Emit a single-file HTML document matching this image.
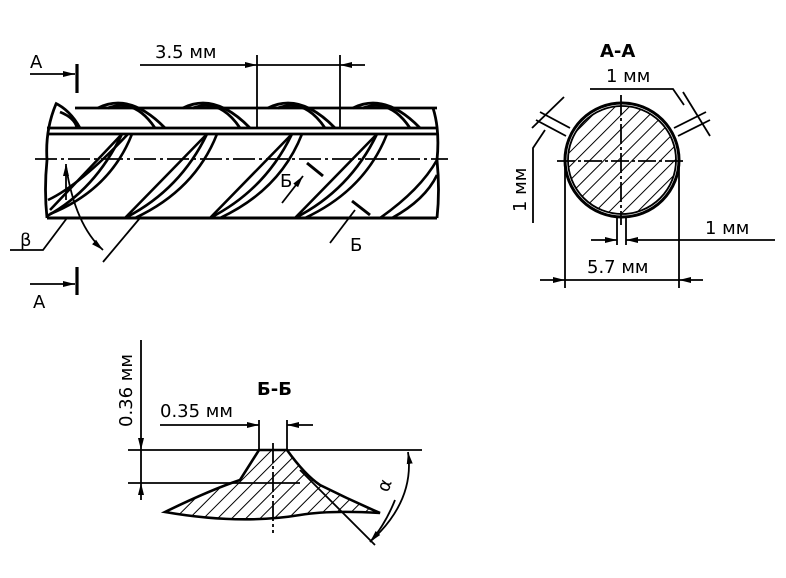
<!DOCTYPE html>
<html><head><meta charset="utf-8"><style>
html,body{margin:0;padding:0;background:#fff;}
svg{display:block;}
text{font-family:"DejaVu Sans","Liberation Sans",sans-serif;font-size:18px;fill:#000;}
</style></head><body>
<svg width="786" height="578" viewBox="0 0 786 578" xmlns="http://www.w3.org/2000/svg">
<defs>
<marker id="ar" markerWidth="12" markerHeight="8" refX="12" refY="4" orient="auto" markerUnits="userSpaceOnUse"><path d="M0,1 L12,4 L0,7 Z" fill="#000"/></marker>
<pattern id="h" width="10" height="10" patternUnits="userSpaceOnUse" patternTransform="rotate(45)"><line x1="0" y1="0" x2="0" y2="10" stroke="#000" stroke-width="2"/></pattern>
<clipPath id="cc"><circle cx="622" cy="160" r="54"/></clipPath>
</defs>
<g stroke="#000" fill="none" stroke-width="2.8">
<!-- rebar body -->
<line x1="75" y1="108" x2="437" y2="108"/>
<line x1="47" y1="128" x2="437" y2="128"/>
<line x1="47" y1="134" x2="437" y2="134"/>
<line x1="47" y1="218" x2="437" y2="218" stroke-width="3"/>
<path d="M56,104 Q45,130 47,160 Q44,190 47,218"/>
<path d="M433,108 Q440,130 437,160 Q440,190 437,218"/>
<g>
<path d="M55,103 Q70,110 80,128"/>
<path d="M60,112 Q75,118 77,128"/>
<path d="M98,108 Q130,92 165,128"/><path d="M108,108 Q135,98 155,128"/>
<path d="M183,108 Q215,92 250,128"/><path d="M193,108 Q220,98 240,128"/>
<path d="M268,108 Q300,92 335,128"/><path d="M278,108 Q305,98 325,128"/>
<path d="M353,108 Q385,92 420,128"/><path d="M363,108 Q390,98 410,128"/>
</g>
<g stroke-width="2.6">
<path d="M122,134 L50,210"/><path d="M132,134 Q110,190 50,214"/><path d="M122,134 Q95,190 47,216"/>
<path d="M207,134 L125,218"/><path d="M217,134 Q195,190 135,218"/><path d="M207,134 Q180,190 125,218"/>
<path d="M292,134 L210,218"/><path d="M302,134 Q280,190 220,218"/><path d="M292,134 Q265,190 210,218"/>
<path d="M377,134 L295,218"/><path d="M387,134 Q365,190 305,218"/><path d="M377,134 Q350,190 295,218"/>
<path d="M437,160 Q420,190 380,218"/><path d="M437,175 Q425,200 392,218"/>
<path d="M128,134 Q80,185 48,200"/>
</g>
<line x1="35" y1="159" x2="448" y2="159" stroke-width="1.8" stroke-dasharray="22,4,3,4"/>
<line x1="140" y1="65" x2="257" y2="65" stroke-width="1.8" marker-end="url(#ar)"/>
<line x1="257" y1="65" x2="340" y2="65" stroke-width="1.8"/>
<line x1="365" y1="65" x2="340" y2="65" stroke-width="1.8" marker-end="url(#ar)"/>
<line x1="257" y1="55" x2="257" y2="128" stroke-width="1.8"/>
<line x1="340" y1="55" x2="340" y2="128" stroke-width="1.8"/>
<line x1="30" y1="74" x2="75" y2="74" stroke-width="1.8" marker-end="url(#ar)"/>
<line x1="77" y1="64" x2="77" y2="93" stroke-width="3.2"/>
<line x1="30" y1="284" x2="75" y2="284" stroke-width="1.8" marker-end="url(#ar)"/>
<line x1="77" y1="267" x2="77" y2="295" stroke-width="3.2"/>
<polyline points="10,250 43,250 67,218" stroke-width="1.8"/>
<path d="M66,166 Q75,225 103,250" stroke-width="1.8" marker-end="url(#ar)"/>
<line x1="66" y1="200" x2="66" y2="164" stroke-width="1.8" marker-end="url(#ar)"/>
<line x1="103" y1="262" x2="140" y2="218" stroke-width="1.8"/>
<line x1="282" y1="203" x2="303" y2="176" stroke-width="1.8" marker-end="url(#ar)"/>
<line x1="307" y1="163" x2="323" y2="176" stroke-width="3"/>
<line x1="330" y1="243" x2="355" y2="210" stroke-width="1.8"/>
<line x1="352" y1="201" x2="370" y2="215" stroke-width="3"/>
<rect x="560" y="100" width="125" height="125" fill="url(#h)" stroke="none" clip-path="url(#cc)"/>
<circle cx="622" cy="160" r="57" stroke-width="3"/>
<circle cx="622" cy="160" r="54" stroke-width="1.8"/>
<line x1="557" y1="161" x2="686" y2="161" stroke-width="1.8" stroke-dasharray="18,3,3,3"/>
<line x1="621" y1="95" x2="621" y2="225" stroke-width="1.8" stroke-dasharray="20,3,3,3"/>
<line x1="570" y1="128" x2="540" y2="112" stroke-width="1.8"/>
<line x1="566" y1="136" x2="536" y2="120" stroke-width="1.8"/>
<line x1="532" y1="128" x2="564" y2="97" stroke-width="1.8"/>
<line x1="674" y1="128" x2="706" y2="112" stroke-width="1.8"/>
<line x1="678" y1="136" x2="710" y2="120" stroke-width="1.8"/>
<line x1="683" y1="92" x2="710" y2="136" stroke-width="1.8"/>
<polyline points="590,89 673,89 684,105" stroke-width="1.8"/>
<polyline points="533,223 533,148 545,130" stroke-width="1.8"/>
<line x1="617" y1="218" x2="617" y2="245" stroke-width="1.8"/>
<line x1="626" y1="218" x2="626" y2="245" stroke-width="1.8"/>
<line x1="591" y1="240" x2="617" y2="240" stroke-width="1.8" marker-end="url(#ar)"/>
<line x1="775" y1="240" x2="626" y2="240" stroke-width="1.8" marker-end="url(#ar)"/>
<line x1="565" y1="160" x2="565" y2="288" stroke-width="1.8"/>
<line x1="679" y1="160" x2="679" y2="288" stroke-width="1.8"/>
<line x1="540" y1="280" x2="565" y2="280" stroke-width="1.8" marker-end="url(#ar)"/>
<line x1="565" y1="280" x2="679" y2="280" stroke-width="1.8"/>
<line x1="703" y1="280" x2="679" y2="280" stroke-width="1.8" marker-end="url(#ar)"/>
<path d="M259,450 L287,450 Q305,475 320,485 Q350,500 380,513 Q330,510 300,515 Q240,525 165,512 Q210,490 240,480 Z" fill="url(#h)" stroke-width="2.6"/>
<line x1="128" y1="450" x2="422" y2="450" stroke-width="1.8"/>
<line x1="128" y1="483" x2="300" y2="483" stroke-width="1.8"/>
<line x1="273" y1="443" x2="273" y2="533" stroke-width="1.8" stroke-dasharray="20,3,3,3"/>
<line x1="259" y1="420" x2="259" y2="450" stroke-width="1.8"/>
<line x1="287" y1="420" x2="287" y2="450" stroke-width="1.8"/>
<line x1="160" y1="425" x2="259" y2="425" stroke-width="1.8" marker-end="url(#ar)"/>
<line x1="313" y1="425" x2="287" y2="425" stroke-width="1.8" marker-end="url(#ar)"/>
<line x1="141" y1="340" x2="141" y2="450" stroke-width="1.8" marker-end="url(#ar)"/>
<line x1="141" y1="500" x2="141" y2="483" stroke-width="1.8" marker-end="url(#ar)"/>
<line x1="141" y1="450" x2="141" y2="483" stroke-width="1.8"/>
<line x1="300" y1="470" x2="375" y2="545" stroke-width="1.8"/>
<path d="M372,540 Q415,500 408,452" stroke-width="1.8" marker-end="url(#ar)"/>
<path d="M395,500 Q385,525 370,542" stroke-width="1.8" marker-end="url(#ar)"/>
</g>
<text x="30" y="68">A</text>
<text x="33" y="308">A</text>
<text x="155" y="58">3.5 мм</text>
<text x="20" y="246">β</text>
<text x="280" y="187">Б</text>
<text x="350" y="251">Б</text>
<text x="600" y="57" font-weight="bold">A-A</text>
<text x="606" y="82">1 мм</text>
<text x="705" y="234">1 мм</text>
<text x="587" y="273">5.7 мм</text>
<text transform="translate(526,212) rotate(-90)">1 мм</text>
<text x="257" y="395" font-weight="bold">Б-Б</text>
<text x="160" y="417">0.35 мм</text>
<text transform="translate(132,427) rotate(-90)">0.36 мм</text>
<text transform="translate(388,493) rotate(-70)">α</text>
</svg>
</body></html>
